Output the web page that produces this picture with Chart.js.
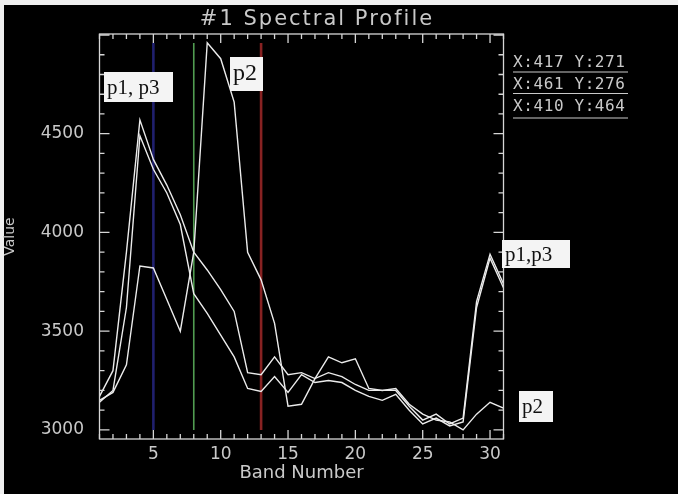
<!DOCTYPE html>
<html>
<head>
<meta charset="utf-8">
<title>#1 Spectral Profile</title>
<script src="https://cdn.jsdelivr.net/npm/chart.js@4.4.1/dist/chart.umd.min.js"></script>
<style>
  html, body { margin: 0; padding: 0; background: #000; }
  canvas { display: block; }
</style>
</head>
<body>
<canvas id="perfil" width="678" height="494"></canvas>
<script>
// bandas e perfis espectrais dos tres pixels
const bandas = [1, 2, 3, 4, 5, 6, 7, 8, 9, 10, 11, 12, 13, 14, 15, 16, 17, 18, 19, 20, 21, 22, 23, 24, 25, 26, 27, 28, 29, 30, 31];
const p1 = [3170, 3300, 3900, 4570, 4370, 4240, 4090, 3900, 3810, 3710, 3600, 3290, 3280, 3370, 3280, 3290, 3260, 3290, 3270, 3230, 3200, 3200, 3200, 3120, 3050, 3080, 3030, 3060, 3650, 3890, 3740];
const p2 = [3150, 3190, 3330, 3830, 3820, 3660, 3500, 3900, 4960, 4880, 4660, 3900, 3760, 3540, 3120, 3130, 3260, 3370, 3340, 3360, 3210, 3200, 3210, 3130, 3080, 3050, 3040, 3000, 3080, 3140, 3110];
const p3 = [3140, 3200, 3620, 4490, 4320, 4200, 4040, 3690, 3590, 3480, 3370, 3210, 3195, 3270, 3190, 3280, 3240, 3250, 3240, 3200, 3170, 3150, 3180, 3100, 3030, 3060, 3020, 3040, 3620, 3870, 3720];

// bandas marcadas (azul, verde, vermelho)
const marcadores = [5, 8, 13];
const coresMarcadores = ["#20206e", "#519c51", "#882222"];

const ticksX = [5, 10, 15, 20, 25, 30];
const ticksY = [3000, 3500, 4000, 4500];
const posicoes = ["X:417 Y:271", "X:461 Y:276", "X:410 Y:464"];

const todos = p1.concat(p2, p3);
const minimo = Math.min(...todos);
const maximo = Math.max(...todos);

const corTexto = "#c9c9c9";

function serie(valores) {
    return bandas.map((b, i) => ({ x: b, y: valores[i] }));
}

function caixa(ctx, texto, x, y, w, h, tam, base) {
    ctx.fillStyle = "#f4f4f4";
    ctx.fillRect(x, y, w, h);
    ctx.fillStyle = "#111";
    ctx.font = tam + "px 'Liberation Serif', serif";
    ctx.textAlign = "left";
    ctx.textBaseline = "alphabetic";
    ctx.fillText(texto, x + 3, base);
}

const moldura = {
    id: "moldura",
    beforeDraw(chart) {
        const ctx = chart.ctx;
        ctx.save();
        ctx.fillStyle = "#000";
        ctx.fillRect(0, 0, chart.width, chart.height);
        ctx.fillStyle = "#f0f0f0";
        ctx.fillRect(0, 0, chart.width, 5);
        ctx.fillRect(0, 0, 4, chart.height);
        ctx.restore();
    },
    afterDraw(chart) {
        const { ctx, chartArea: a, scales: { x, y } } = chart;
        ctx.save();

        // caixa do grafico e marcas dos eixos
        ctx.strokeStyle = "#d6d6d6";
        ctx.lineWidth = 1.3;
        ctx.strokeRect(a.left, a.top, a.right - a.left, a.bottom - a.top);
        ctx.beginPath();
        bandas.forEach(b => {
            const px = x.getPixelForValue(b);
            const len = b % 5 === 0 ? 9 : 5;
            ctx.moveTo(px, a.bottom);
            ctx.lineTo(px, a.bottom - len);
            ctx.moveTo(px, a.top);
            ctx.lineTo(px, a.top + len);
        });
        for (let v = 3000; v <= 5000; v += 100) {
            const py = y.getPixelForValue(v);
            const len = v % 500 === 0 ? 10 : 5;
            ctx.moveTo(a.left, py);
            ctx.lineTo(a.left + len, py);
            ctx.moveTo(a.right, py);
            ctx.lineTo(a.right - len, py);
        }
        ctx.stroke();

        // titulo
        ctx.fillStyle = corTexto;
        ctx.font = "21px 'DejaVu Sans'";
        ctx.textAlign = "center";
        ctx.textBaseline = "alphabetic";
        if ("letterSpacing" in ctx) ctx.letterSpacing = "2px";
        ctx.fillText("#1 Spectral Profile", 317, 25);

        // coordenadas dos pixels
        ctx.font = "16px 'DejaVu Sans Mono'";
        ctx.textAlign = "left";
        if ("letterSpacing" in ctx) ctx.letterSpacing = "0.6px";
        const bases = [66.5, 88.5, 111];
        const linhas = [72, 93.5, 118];
        posicoes.forEach((t, i) => {
            ctx.fillText(t, 513, bases[i]);
        });
        if ("letterSpacing" in ctx) ctx.letterSpacing = "0px";
        ctx.strokeStyle = corTexto;
        ctx.lineWidth = 1.2;
        ctx.beginPath();
        linhas.forEach(ly => {
            ctx.moveTo(513, ly);
            ctx.lineTo(628, ly);
        });
        ctx.stroke();

        // rotulos dos perfis
        caixa(ctx, "p1, p3", 104, 72, 69, 30, 21, 93.5);
        caixa(ctx, "p2", 230, 57, 33, 34, 24, 80);
        caixa(ctx, "p1,p3", 502, 240, 68, 28, 21, 261);
        caixa(ctx, "p2", 519, 391, 34, 31, 21, 413);

        ctx.restore();
    }
};

const linhaPerfil = { borderColor: "#ebebeb", borderWidth: 1.4, pointRadius: 0, tension: 0, fill: false };

new Chart(document.getElementById("perfil"), {
    type: "line",
    data: {
        datasets: [
            Object.assign({ label: "p1", data: serie(p1) }, linhaPerfil),
            Object.assign({ label: "p2", data: serie(p2) }, linhaPerfil),
            Object.assign({ label: "p3", data: serie(p3) }, linhaPerfil),
            ...marcadores.map((b, i) => ({
                label: "banda " + b,
                data: [{ x: b, y: minimo }, { x: b, y: maximo }],
                borderColor: coresMarcadores[i],
                borderWidth: i === 1 ? 1.6 : 2.6,
                pointRadius: 0
            }))
        ]
    },
    options: {
        responsive: false,
        animation: false,
        devicePixelRatio: 1,
        layout: { padding: { left: 0, top: 34, right: 174.5, bottom: 0 } },
        plugins: {
            legend: { display: false },
            tooltip: { enabled: false }
        },
        scales: {
            x: {
                type: "linear",
                min: 1,
                max: 31,
                afterBuildTicks: s => { s.ticks = ticksX.map(v => ({ value: v })); },
                afterFit: s => { s.height = 55; },
                grid: { display: false },
                border: { display: false },
                ticks: { color: corTexto, font: { family: "DejaVu Sans", size: 17 }, padding: -3, maxRotation: 0, autoSkip: false },
                title: { display: true, text: "Band Number", color: corTexto, font: { family: "DejaVu Sans", size: 18 }, padding: { top: 0, bottom: 10 } }
            },
            y: {
                type: "linear",
                min: 2954,
                max: 5005,
                afterBuildTicks: s => { s.ticks = ticksY.map(v => ({ value: v })); },
                afterFit: s => { s.width = 99.5; },
                grid: { display: false },
                border: { display: false },
                ticks: { color: corTexto, font: { family: "DejaVu Sans", size: 17 }, padding: 7.5, callback: v => String(v) },
                title: { display: true, text: "Value", color: corTexto, font: { family: "DejaVu Sans", size: 14 }, padding: { top: 2, bottom: 0 } }
            }
        }
    },
    plugins: [moldura]
});
</script>
</body>
</html>
